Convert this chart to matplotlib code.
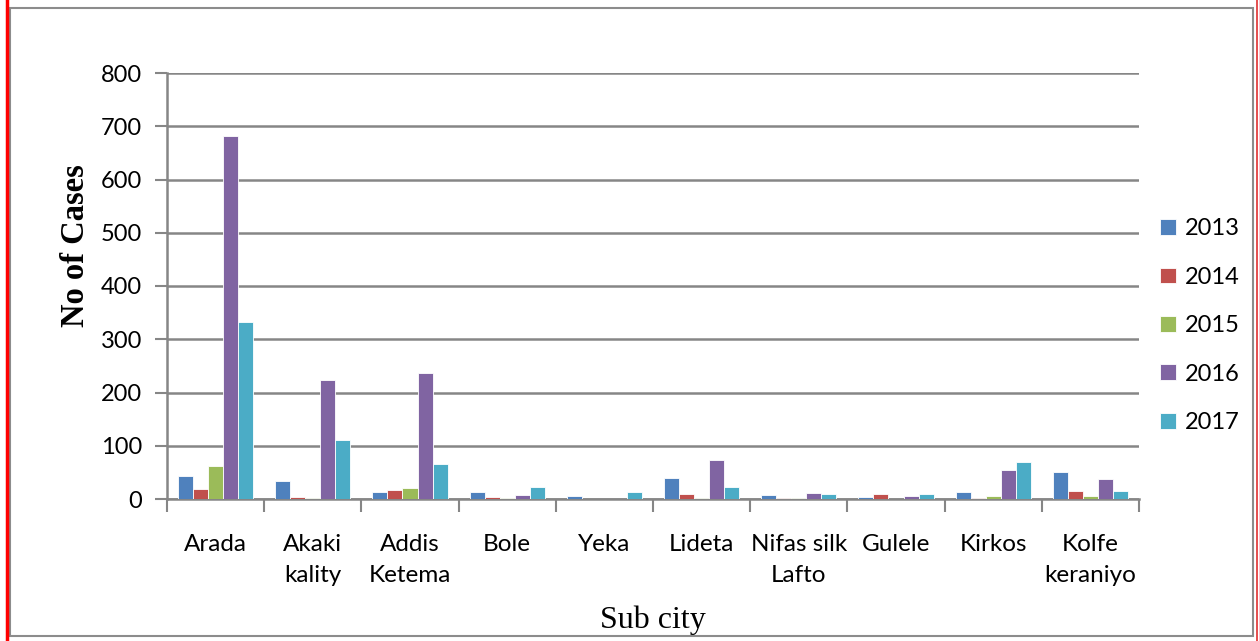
import matplotlib
matplotlib.use("Agg")
import matplotlib.pyplot as plt
from matplotlib.lines import Line2D
from matplotlib.patches import Rectangle
import numpy as np

# Cases per sub city, one list per year
sub_cities = ["Arada", "Akaki\nkality", "Addis\nKetema", "Bole", "Yeka",
              "Lideta", "Nifas silk\nLafto", "Gulele", "Kirkos", "Kolfe\nkeraniyo"]
years = ["2013", "2014", "2015", "2016", "2017"]
cases_2013 = [44, 34, 14, 13, 5, 39, 7, 4, 14, 51]
cases_2014 = [18, 4, 16, 4, 0, 9, 1, 9, 2, 15]
cases_2015 = [62, 1, 21, 2, 0, 2, 1, 0, 5, 5]
cases_2016 = [682, 223, 236, 7, 0, 73, 12, 6, 54, 37]
cases_2017 = [332, 110, 65, 22, 13, 22, 9, 10, 69, 15]
series = [cases_2013, cases_2014, cases_2015, cases_2016, cases_2017]
colors = ["#4F81BD", "#C0504D", "#9BBB59", "#8064A2", "#4BACC6"]

GRID = "#868686"
SANS = ["Lato", "DejaVu Sans"]
SERIF = ["Liberation Serif", "DejaVu Serif"]

W, H = 1259, 641
fig = plt.figure(figsize=(W / 100, H / 100), dpi=100, facecolor="white")
ax = fig.add_axes([167 / W, 1 - 499 / H, (1139 - 167) / W, (499 - 73) / H])

x = np.arange(len(sub_cities))
bw = 0.155
for i, (vals, c, yr) in enumerate(zip(series, colors, years)):
    ax.bar(x + (i - 2) * bw, vals, width=bw, color=c, edgecolor="white",
           linewidth=0.6, label=yr, zorder=3)

ax.set_xlim(-0.5, len(sub_cities) - 0.5)
ax.set_ylim(0, 800)
ax.set_yticks(range(0, 801, 100))
ax.tick_params(axis="y", length=9, width=1.5, color=GRID, pad=9,
               labelsize=17)
for lab in ax.get_yticklabels():
    lab.set_family(SANS)
ax.yaxis.grid(True, color=GRID, linewidth=1.8, zorder=0)
ax.set_axisbelow(True)

# category labels centred, separator ticks between groups
ax.set_xticks(x)
ax.set_xticklabels(sub_cities, fontsize=17.5, family=SANS, linespacing=1.62,
                   va="top")
ax.tick_params(axis="x", length=0, pad=25)
ax.set_xticks(np.arange(-0.5, len(sub_cities)), minor=True)
ax.tick_params(axis="x", which="minor", length=9, width=1.5, color=GRID)

for side in ["top", "right"]:
    ax.spines[side].set_visible(False)
ax.spines["left"].set_color(GRID)
ax.spines["left"].set_linewidth(1.8)
ax.spines["bottom"].set_color(GRID)
ax.spines["bottom"].set_linewidth(1.8)

fig.text(75 / W, 1 - 246 / H, "No of Cases", family=SERIF, fontsize=23.5,
         fontweight="bold", rotation=90, ha="center", va="center")
fig.text(653 / W, 1 - 620 / H, "Sub city", family=SERIF, fontsize=23,
         ha="center", va="center")

leg = fig.legend(loc="upper left", bbox_to_anchor=(1151 / W, 1 - 209 / H),
                 frameon=False, prop={"family": SANS, "size": 17},
                 handlelength=0.65, handleheight=0.65, handletextpad=0.4,
                 labelspacing=1.16, borderaxespad=0)

# outer frame of the chart area
fig.add_artist(Rectangle((10 / W, 1 - 636 / H), (1253 - 10) / W, (636 - 8) / H,
                         transform=fig.transFigure, fill=False,
                         edgecolor="#8c8c8c", linewidth=1.5))
fig.add_artist(Line2D([7 / W, 7 / W], [0, 1], transform=fig.transFigure,
                      color="#ff0000", linewidth=2.5))
fig.add_artist(Line2D([1257 / W, 1257 / W], [0, 1], transform=fig.transFigure,
                      color="#e03030", linewidth=1.2))

fig.savefig("out.png", dpi=100, facecolor="white")
